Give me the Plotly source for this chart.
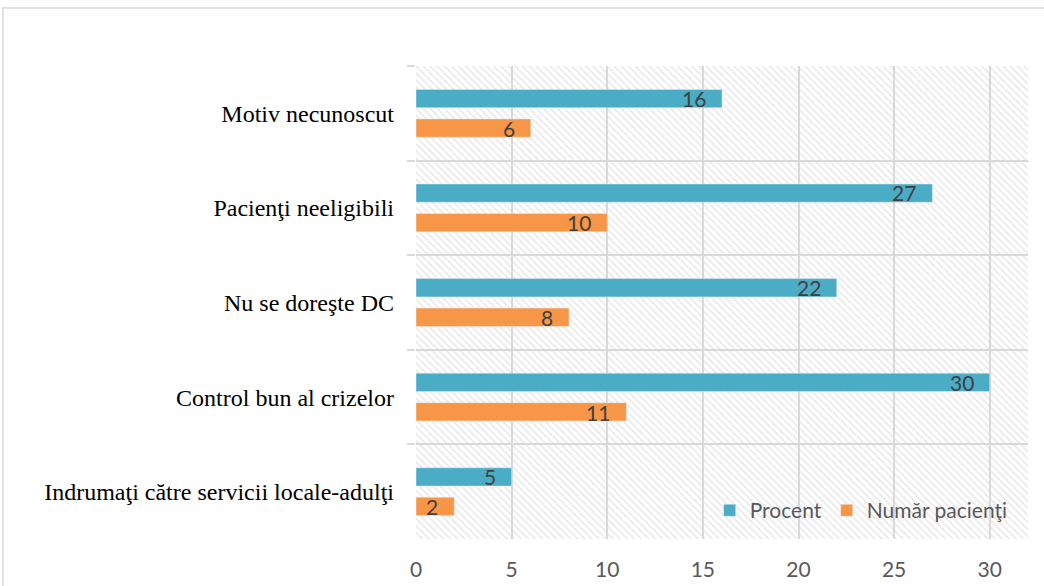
import plotly.graph_objects as go

# Categories (top to bottom) and the two series
categories = [
    "Motiv necunoscut",
    "Pacienţi neeligibili",
    "Nu se doreşte DC",
    "Control bun al crizelor",
    "Indrumaţi către servicii locale-adulţi",
]
procent = [16, 27, 22, 30, 5]
numar_pacienti = [6, 10, 8, 11, 2]
x_ticks = [0, 5, 10, 15, 20, 25, 30]

BLUE = "#4BACC6"
ORANGE = "#F79646"
GRID = "#d9d9d9"
SANS = "Lato"

fig = go.Figure()

# Hatched plot background on the base axes (drawn beneath the bar subplot)
fig.add_trace(go.Scatter(
    x=[0, 1, 1, 0, 0], y=[0, 0, 1, 1, 0],
    mode="none", fill="toself",
    fillpattern=dict(shape="\\", fgcolor="#d6d6d6", bgcolor="rgba(0,0,0,0)",
                     size=5, solidity=0.35),
    hoverinfo="skip", showlegend=False,
    xaxis="x", yaxis="y",
))

fig.add_trace(go.Bar(
    name="Procent", y=categories, x=procent, orientation="h",
    marker=dict(color=BLUE), xaxis="x2", yaxis="y2",
))
fig.add_trace(go.Bar(
    name="Număr pacienţi", y=categories, x=numar_pacienti, orientation="h",
    marker=dict(color=ORANGE), xaxis="x2", yaxis="y2",
))

# Value labels at the inner end of each bar
annotations = []
for series, yshift in ((procent, 15), (numar_pacienti, -15)):
    for cat, val in zip(categories, series):
        annotations.append(dict(
            x=val, y=cat, xref="x2", yref="y2",
            text=str(val), showarrow=False,
            xanchor="right", yanchor="middle", xshift=-14, yshift=yshift,
            font=dict(family=SANS, size=21, color="#404040"),
        ))

fig.update_layout(
    width=1044, height=586,
    margin=dict(l=416, r=16, t=66, b=47, autoexpand=False),
    paper_bgcolor="white", plot_bgcolor="white",
    barmode="group", bargap=0.376, bargroupgap=0.38,
    showlegend=True,
    legend=dict(
        orientation="h", x=0.975, xanchor="right", y=0.06, yanchor="middle",
        bgcolor="rgba(0,0,0,0)", itemwidth=30,
        font=dict(family=SANS, size=21, color="#595959"),
    ),
    xaxis=dict(range=[0, 1], visible=False, fixedrange=True),
    yaxis=dict(range=[0, 1], visible=False, fixedrange=True),
    xaxis2=dict(
        overlaying="x", anchor="y2", side="bottom", automargin=False,
        range=[0, 32], tickvals=x_ticks, ticktext=[str(v) for v in x_ticks],
        showgrid=True, gridcolor=GRID, gridwidth=1.5,
        zeroline=False, showline=False, ticks="",
        ticklabelstandoff=16,
        tickfont=dict(family=SANS, size=21, color="#595959"),
    ),
    yaxis2=dict(
        overlaying="y", anchor="x2", type="category", automargin=False,
        categoryorder="array", categoryarray=categories,
        autorange="reversed",
        tickson="boundaries", ticks="outside", ticklen=8,
        tickcolor=GRID, tickwidth=1.5,
        showgrid=True, gridcolor=GRID, gridwidth=1.5,
        zeroline=False, showline=False,
        ticklabelstandoff=21,
        tickfont=dict(family="Liberation Serif", size=24, color="black"),
    ),
    annotations=annotations,
    shapes=[dict(
        type="rect", xref="paper", yref="paper",
        x0=-0.675, x1=1.3, y0=-0.3, y1=1.1226,
        line=dict(color=GRID, width=1.5), fillcolor="rgba(0,0,0,0)",
        layer="below",
    )],
)

fig.write_html("out.html")
